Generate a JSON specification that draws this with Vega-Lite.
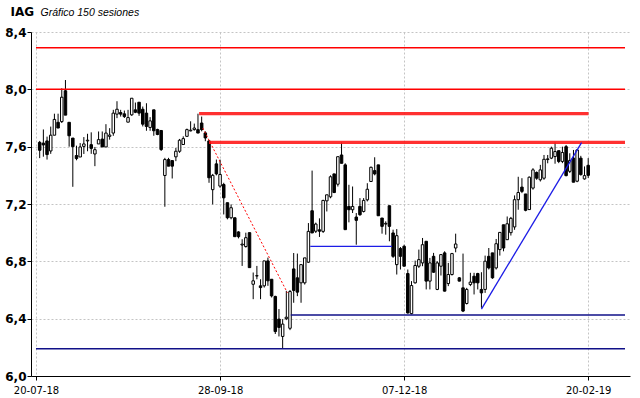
{
"$schema": "https://vega.github.io/schema/vega-lite/v6.json",
"width": 599, "height": 344,
"autosize": {"type": "none"},
"padding": {"left": 31, "top": 32, "right": 10, "bottom": 22},
"background": "white",
"config": {"view": {"stroke": null}},
"datasets": {
"velas": [
{"i":1,"o":7.63,"h":7.64,"l":7.52,"c":7.575},
{"i":2,"o":7.625,"h":7.72,"l":7.53,"c":7.612},
{"i":3,"o":7.64,"h":7.67,"l":7.51,"c":7.545},
{"i":4,"o":7.57,"h":7.74,"l":7.55,"c":7.68},
{"i":5,"o":7.68,"h":7.83,"l":7.68,"c":7.79},
{"i":6,"o":7.77,"h":7.83,"l":7.73,"c":7.73},
{"i":7,"o":7.775,"h":8.007,"l":7.765,"c":7.945},
{"i":8,"o":7.99,"h":8.065,"l":7.82,"c":7.82},
{"i":9,"o":7.77,"h":7.77,"l":7.6,"c":7.676},
{"i":10,"o":7.66,"h":7.66,"l":7.32,"c":7.6},
{"i":11,"o":7.538,"h":7.607,"l":7.505,"c":7.517},
{"i":12,"o":7.528,"h":7.625,"l":7.528,"c":7.598},
{"i":13,"o":7.602,"h":7.667,"l":7.549,"c":7.619},
{"i":14,"o":7.64,"h":7.69,"l":7.568,"c":7.645},
{"i":15,"o":7.614,"h":7.7,"l":7.55,"c":7.588},
{"i":16,"o":7.549,"h":7.598,"l":7.464,"c":7.579},
{"i":17,"o":7.619,"h":7.706,"l":7.619,"c":7.649},
{"i":18,"o":7.653,"h":7.706,"l":7.598,"c":7.598},
{"i":19,"o":7.598,"h":7.757,"l":7.598,"c":7.695},
{"i":20,"o":7.672,"h":7.729,"l":7.649,"c":7.681},
{"i":21,"o":7.695,"h":7.857,"l":7.676,"c":7.834},
{"i":22,"o":7.827,"h":7.917,"l":7.799,"c":7.861},
{"i":23,"o":7.838,"h":7.857,"l":7.81,"c":7.827},
{"i":24,"o":7.829,"h":7.852,"l":7.8,"c":7.81},
{"i":25,"o":7.771,"h":7.857,"l":7.771,"c":7.803},
{"i":26,"o":7.822,"h":7.938,"l":7.815,"c":7.938},
{"i":27,"o":7.857,"h":7.908,"l":7.834,"c":7.84},
{"i":28,"o":7.91,"h":7.91,"l":7.815,"c":7.834},
{"i":29,"o":7.861,"h":7.88,"l":7.741,"c":7.757},
{"i":30,"o":7.834,"h":7.903,"l":7.711,"c":7.741},
{"i":31,"o":7.734,"h":7.806,"l":7.711,"c":7.78},
{"i":32,"o":7.857,"h":7.857,"l":7.676,"c":7.711},
{"i":33,"o":7.72,"h":7.725,"l":7.68,"c":7.685},
{"i":34,"o":7.713,"h":7.713,"l":7.57,"c":7.58},
{"i":35,"o":7.399,"h":7.522,"l":7.181,"c":7.51},
{"i":36,"o":7.51,"h":7.522,"l":7.464,"c":7.464},
{"i":37,"o":7.503,"h":7.503,"l":7.378,"c":7.464},
{"i":38,"o":7.529,"h":7.591,"l":7.499,"c":7.568},
{"i":39,"o":7.568,"h":7.654,"l":7.557,"c":7.645},
{"i":40,"o":7.615,"h":7.672,"l":7.615,"c":7.656},
{"i":41,"o":7.672,"h":7.726,"l":7.672,"c":7.719},
{"i":42,"o":7.71,"h":7.777,"l":7.707,"c":7.715},
{"i":43,"o":7.719,"h":7.761,"l":7.712,"c":7.73},
{"i":44,"o":7.719,"h":7.83,"l":7.695,"c":7.695},
{"i":45,"o":7.765,"h":7.81,"l":7.707,"c":7.719},
{"i":46,"o":7.696,"h":7.707,"l":7.638,"c":7.661},
{"i":47,"o":7.64,"h":7.645,"l":7.348,"c":7.383},
{"i":48,"o":7.3,"h":7.41,"l":7.197,"c":7.4},
{"i":49,"o":7.48,"h":7.51,"l":7.4,"c":7.41},
{"i":50,"o":7.325,"h":7.51,"l":7.313,"c":7.406},
{"i":51,"o":7.336,"h":7.348,"l":7.127,"c":7.243},
{"i":52,"o":7.209,"h":7.209,"l":7.093,"c":7.104},
{"i":53,"o":7.104,"h":7.197,"l":7.093,"c":7.174},
{"i":54,"o":7.104,"h":7.104,"l":6.972,"c":6.972},
{"i":55,"o":7.005,"h":7.01,"l":6.96,"c":6.972},
{"i":56,"o":6.914,"h":6.954,"l":6.768,"c":6.92},
{"i":57,"o":6.903,"h":7.0,"l":6.896,"c":6.965},
{"i":58,"o":7.0,"h":7.0,"l":6.756,"c":6.756},
{"i":59,"o":6.64,"h":6.722,"l":6.536,"c":6.664},
{"i":60,"o":6.698,"h":6.768,"l":6.675,"c":6.7},
{"i":61,"o":6.629,"h":6.675,"l":6.536,"c":6.617},
{"i":62,"o":6.629,"h":6.803,"l":6.617,"c":6.803},
{"i":63,"o":6.803,"h":6.826,"l":6.629,"c":6.664},
{"i":64,"o":6.675,"h":6.675,"l":6.548,"c":6.559},
{"i":65,"o":6.555,"h":6.56,"l":6.293,"c":6.31},
{"i":66,"o":6.397,"h":6.467,"l":6.276,"c":6.339},
{"i":67,"o":6.276,"h":6.397,"l":6.19,"c":6.362},
{"i":68,"o":6.4,"h":6.594,"l":6.39,"c":6.41},
{"i":69,"o":6.333,"h":6.6,"l":6.32,"c":6.589},
{"i":70,"o":6.747,"h":6.858,"l":6.511,"c":6.597},
{"i":71,"o":6.685,"h":6.854,"l":6.557,"c":6.585},
{"i":72,"o":6.65,"h":6.777,"l":6.511,"c":6.777},
{"i":73,"o":6.65,"h":6.824,"l":6.638,"c":6.824},
{"i":74,"o":6.794,"h":7.067,"l":6.789,"c":7.009},
{"i":75,"o":7.153,"h":7.433,"l":6.998,"c":6.998},
{"i":76,"o":7.01,"h":7.07,"l":6.998,"c":7.06},
{"i":77,"o":7.02,"h":7.1,"l":6.97,"c":7.01},
{"i":78,"o":7.009,"h":7.229,"l":6.998,"c":7.225},
{"i":79,"o":7.222,"h":7.264,"l":7.148,"c":7.264},
{"i":80,"o":7.25,"h":7.4,"l":7.24,"c":7.39},
{"i":81,"o":7.41,"h":7.41,"l":7.276,"c":7.28},
{"i":82,"o":7.338,"h":7.53,"l":7.322,"c":7.53},
{"i":83,"o":7.542,"h":7.63,"l":7.484,"c":7.484},
{"i":84,"o":7.473,"h":7.484,"l":7.021,"c":7.021},
{"i":85,"o":7.183,"h":7.334,"l":7.072,"c":7.16},
{"i":86,"o":7.16,"h":7.322,"l":7.137,"c":7.183},
{"i":87,"o":7.109,"h":7.137,"l":6.916,"c":7.086},
{"i":88,"o":7.183,"h":7.241,"l":7.118,"c":7.125},
{"i":89,"o":7.148,"h":7.241,"l":7.141,"c":7.225},
{"i":90,"o":7.229,"h":7.345,"l":7.218,"c":7.303},
{"i":91,"o":7.357,"h":7.461,"l":7.357,"c":7.456},
{"i":92,"o":7.433,"h":7.526,"l":7.4,"c":7.41},
{"i":93,"o":7.473,"h":7.473,"l":7.118,"c":7.118},
{"i":94,"o":7.102,"h":7.102,"l":6.993,"c":7.044},
{"i":95,"o":7.06,"h":7.079,"l":6.986,"c":7.065},
{"i":96,"o":7.188,"h":7.188,"l":6.94,"c":7.044},
{"i":97,"o":6.998,"h":7.021,"l":6.824,"c":6.835},
{"i":98,"o":6.777,"h":7.025,"l":6.708,"c":6.979},
{"i":99,"o":6.889,"h":6.9,"l":6.743,"c":6.835},
{"i":100,"o":6.905,"h":6.916,"l":6.766,"c":6.766},
{"i":101,"o":6.715,"h":6.743,"l":6.435,"c":6.44},
{"i":102,"o":6.435,"h":6.662,"l":6.43,"c":6.631},
{"i":103,"o":6.65,"h":6.805,"l":6.645,"c":6.771},
{"i":104,"o":6.766,"h":6.882,"l":6.754,"c":6.812},
{"i":105,"o":6.789,"h":6.963,"l":6.766,"c":6.916},
{"i":106,"o":6.94,"h":6.94,"l":6.604,"c":6.662},
{"i":107,"o":6.662,"h":6.824,"l":6.604,"c":6.789},
{"i":108,"o":6.835,"h":6.859,"l":6.72,"c":6.724},
{"i":109,"o":6.604,"h":6.801,"l":6.599,"c":6.789},
{"i":110,"o":6.766,"h":6.847,"l":6.701,"c":6.847},
{"i":111,"o":6.859,"h":6.87,"l":6.59,"c":6.592},
{"i":112,"o":6.645,"h":6.789,"l":6.627,"c":6.708},
{"i":113,"o":6.708,"h":6.859,"l":6.701,"c":6.854},
{"i":114,"o":6.893,"h":6.993,"l":6.863,"c":6.921},
{"i":115,"o":6.685,"h":6.69,"l":6.66,"c":6.662},
{"i":116,"o":6.615,"h":6.854,"l":6.446,"c":6.453},
{"i":117,"o":6.506,"h":6.615,"l":6.499,"c":6.604},
{"i":118,"o":6.638,"h":6.72,"l":6.627,"c":6.655},
{"i":119,"o":6.696,"h":6.72,"l":6.569,"c":6.65},
{"i":120,"o":6.715,"h":6.72,"l":6.604,"c":6.65},
{"i":121,"o":6.604,"h":6.724,"l":6.476,"c":6.58},
{"i":122,"o":6.604,"h":6.84,"l":6.58,"c":6.801},
{"i":123,"o":6.835,"h":6.893,"l":6.743,"c":6.754},
{"i":124,"o":6.859,"h":6.859,"l":6.678,"c":6.685},
{"i":125,"o":6.754,"h":6.956,"l":6.743,"c":6.923},
{"i":126,"o":6.882,"h":7.002,"l":6.84,"c":7.002},
{"i":127,"o":7.055,"h":7.055,"l":6.87,"c":6.893},
{"i":128,"o":6.951,"h":7.113,"l":6.951,"c":7.062},
{"i":129,"o":7.0,"h":7.11,"l":6.98,"c":7.1},
{"i":130,"o":7.04,"h":7.26,"l":7.02,"c":7.23},
{"i":131,"o":7.23,"h":7.39,"l":7.16,"c":7.28},
{"i":132,"o":7.318,"h":7.38,"l":7.276,"c":7.288},
{"i":133,"o":7.27,"h":7.27,"l":7.149,"c":7.156},
{"i":134,"o":7.161,"h":7.392,"l":7.161,"c":7.387},
{"i":135,"o":7.311,"h":7.45,"l":7.3,"c":7.438},
{"i":136,"o":7.42,"h":7.427,"l":7.369,"c":7.38},
{"i":137,"o":7.369,"h":7.473,"l":7.357,"c":7.438},
{"i":138,"o":7.38,"h":7.542,"l":7.369,"c":7.512},
{"i":139,"o":7.51,"h":7.542,"l":7.484,"c":7.515},
{"i":140,"o":7.52,"h":7.6,"l":7.513,"c":7.589},
{"i":141,"o":7.531,"h":7.63,"l":7.481,"c":7.566},
{"i":142,"o":7.572,"h":7.572,"l":7.485,"c":7.497},
{"i":143,"o":7.497,"h":7.6,"l":7.485,"c":7.559},
{"i":144,"o":7.6,"h":7.612,"l":7.393,"c":7.398},
{"i":145,"o":7.428,"h":7.554,"l":7.416,"c":7.504},
{"i":146,"o":7.52,"h":7.577,"l":7.352,"c":7.352},
{"i":147,"o":7.359,"h":7.582,"l":7.352,"c":7.577},
{"i":148,"o":7.52,"h":7.536,"l":7.398,"c":7.405},
{"i":149,"o":7.375,"h":7.462,"l":7.37,"c":7.398},
{"i":150,"o":7.47,"h":7.52,"l":7.382,"c":7.4}
],
"lineas": [
{"tipo":"resistencia","x1":0,"x2":160,"y1":8.29,"y2":8.29},
{"tipo":"resistencia","x1":0,"x2":160,"y1":8.0,"y2":8.0},
{"tipo":"resistencia fuerte","x1":44.3,"x2":150.1,"y1":7.83,"y2":7.83},
{"tipo":"resistencia fuerte","x1":47,"x2":160,"y1":7.63,"y2":7.63},
{"tipo":"soporte","x1":69.2,"x2":160,"y1":6.425,"y2":6.425},
{"tipo":"soporte","x1":0,"x2":160,"y1":6.19,"y2":6.19},
{"tipo":"bajista","x1":45.3,"x2":68.3,"y1":7.73,"y2":6.58},
{"tipo":"canal","x1":74.5,"x2":96.7,"y1":6.905,"y2":6.905},
{"tipo":"canal","x1":121,"x2":148.2,"y1":6.467,"y2":7.628}
]
},
"layer": [
{"data": {"name": "velas"},
 "mark": {"type": "rule", "color": "black", "strokeWidth": 1},
 "encoding": {
  "x": {"field": "i", "type": "quantitative",
        "scale": {"domain": [0, 160], "nice": false, "zero": false},
        "axis": {"values": [0, 50, 100, 150],
                 "labelExpr": "datum.value == 0 ? '20-07-18' : datum.value == 50 ? '28-09-18' : datum.value == 100 ? '07-12-18' : '20-02-19'",
                 "labelFlush": false, "labelOverlap": false,
                 "grid": true, "gridColor": "#c4c4c4", "gridDash": [2, 2],
                 "tickSize": 4, "labelPadding": 5,
                 "labelFont": "DejaVu Sans", "labelFontSize": 10, "labelColor": "black",
                 "domainColor": "black", "tickColor": "black",
                 "title": "Gráfico 150 sesiones", "titleX": 9, "titleY": -360.5,
                 "titleAlign": "left", "titleBaseline": "alphabetic", "titleAngle": 0,
                 "titleFont": "Liberation Sans", "titleFontStyle": "italic", "titleFontWeight": "normal",
                 "titleFontSize": 10.5, "titleColor": "black"}},
  "y": {"field": "l", "type": "quantitative",
        "scale": {"domain": [6.0, 8.4], "nice": false, "zero": false},
        "axis": {"values": [6,6.05,6.1,6.15,6.2,6.25,6.3,6.35,6.4,6.45,6.5,6.55,6.6,6.65,6.7,6.75,6.8,6.85,6.9,6.95,7,7.05,7.1,7.15,7.2,7.25,7.3,7.35,7.4,7.45,7.5,7.55,7.6,7.65,7.7,7.75,7.8,7.85,7.9,7.95,8,8.05,8.1,8.15,8.2,8.25,8.3,8.35,8.4],
                 "labelExpr": "abs(datum.value*5 - round(datum.value*5)) < 0.01 ? replace(format(datum.value, '.1f'), '.', ',') : ''",
                 "labelOverlap": false,
                 "tickSize": {"condition": {"test": "abs(datum.value*5 - round(datum.value*5)) < 0.01", "value": 4}, "value": 2},
                 "gridOpacity": {"condition": {"test": "abs(datum.value*5 - round(datum.value*5)) < 0.01", "value": 1}, "value": 0},
                 "grid": true, "gridColor": "#c4c4c4", "gridDash": [2, 2],
                 "labelPadding": 1,
                 "labelFont": "DejaVu Sans", "labelFontSize": 12, "labelFontWeight": "bold", "labelColor": "black",
                 "domainColor": "black", "tickColor": "black",
                 "title": "IAG", "titleAngle": 0, "titleX": -21, "titleY": -16.5,
                 "titleAlign": "left", "titleBaseline": "alphabetic",
                 "titleFont": "DejaVu Sans", "titleFontWeight": "bold",
                 "titleFontSize": 12, "titleColor": "black"}},
  "y2": {"field": "h"}
 }},
{"data": {"name": "velas"},
 "mark": {"type": "bar", "size": 2.5, "stroke": "black", "strokeWidth": 1},
 "encoding": {
  "x": {"field": "i", "type": "quantitative"},
  "y": {"field": "o", "type": "quantitative"},
  "y2": {"field": "c"},
  "fill": {"condition": {"test": "datum.c >= datum.o", "value": "white"}, "value": "black"}
 }},
{"data": {"name": "lineas"},
 "transform": [{"filter": "datum.tipo == 'resistencia'"}],
 "mark": {"type": "rule", "color": "#ff0000", "strokeWidth": 1.5},
 "encoding": {"x": {"field": "x1", "type": "quantitative"}, "x2": {"field": "x2"}, "y": {"field": "y1", "type": "quantitative"}, "y2": {"field": "y2"}}},
{"data": {"name": "lineas"},
 "transform": [{"filter": "datum.tipo == 'resistencia fuerte'"}],
 "mark": {"type": "rule", "color": "#ff1a1a", "strokeWidth": 3.2, "opacity": 0.9},
 "encoding": {"x": {"field": "x1", "type": "quantitative"}, "x2": {"field": "x2"}, "y": {"field": "y1", "type": "quantitative"}, "y2": {"field": "y2"}}},
{"data": {"name": "lineas"},
 "transform": [{"filter": "datum.tipo == 'soporte'"}],
 "mark": {"type": "rule", "color": "#101088", "strokeWidth": 1.5},
 "encoding": {"x": {"field": "x1", "type": "quantitative"}, "x2": {"field": "x2"}, "y": {"field": "y1", "type": "quantitative"}, "y2": {"field": "y2"}}},
{"data": {"name": "lineas"},
 "transform": [{"filter": "datum.tipo == 'bajista'"}],
 "mark": {"type": "rule", "color": "#ff0000", "strokeWidth": 1, "strokeDash": [2, 2]},
 "encoding": {"x": {"field": "x1", "type": "quantitative"}, "x2": {"field": "x2"}, "y": {"field": "y1", "type": "quantitative"}, "y2": {"field": "y2"}}},
{"data": {"name": "lineas"},
 "transform": [{"filter": "datum.tipo == 'canal'"}],
 "mark": {"type": "rule", "color": "#1c1ce6", "strokeWidth": 1.3},
 "encoding": {"x": {"field": "x1", "type": "quantitative"}, "x2": {"field": "x2"}, "y": {"field": "y1", "type": "quantitative"}, "y2": {"field": "y2"}}}
]
}
